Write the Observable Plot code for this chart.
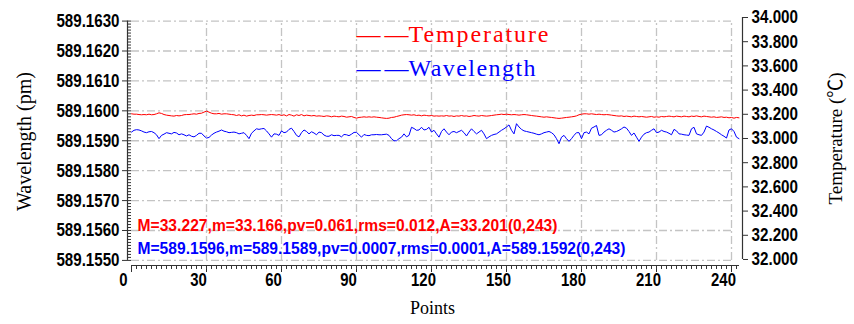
<!DOCTYPE html>
<html><head><meta charset="utf-8">
<script src="https://cdn.jsdelivr.net/npm/d3@7"></script>
<script src="https://cdn.jsdelivr.net/npm/@observablehq/plot@0.6"></script>
<style>body{margin:0;background:#fff}</style>
</head><body><div id="chart"></div>
<script>
const wavelength = [
589.15929,589.15935,589.15937,589.15936,589.15933,589.15929,589.15927,589.15930,589.15931,589.15927,
589.15920,589.15907,589.15918,589.15922,589.15927,589.15925,589.15923,589.15928,589.15926,589.15920,
589.15923,589.15920,589.15916,589.15920,589.15915,589.15913,589.15918,589.15925,589.15925,589.15916,
589.15909,589.15911,589.15919,589.15925,589.15929,589.15932,589.15936,589.15932,589.15930,589.15927,
589.15928,589.15929,589.15927,589.15923,589.15925,589.15927,589.15918,589.15907,589.15925,589.15933,
589.15940,589.15938,589.15940,589.15941,589.15933,589.15923,589.15912,589.15923,589.15922,589.15918,
589.15933,589.15927,589.15929,589.15938,589.15942,589.15931,589.15918,589.15913,589.15927,589.15936,
589.15931,589.15923,589.15930,589.15926,589.15920,589.15929,589.15927,589.15919,589.15915,589.15915,
589.15920,589.15917,589.15918,589.15918,589.15913,589.15921,589.15920,589.15917,589.15922,589.15928,
589.15928,589.15920,589.15912,589.15921,589.15918,589.15917,589.15920,589.15920,589.15921,589.15920,
589.15920,589.15921,589.15922,589.15918,589.15907,589.15900,589.15900,589.15907,589.15912,589.15923,
589.15913,589.15918,589.15945,589.15941,589.15935,589.15936,589.15945,589.15936,589.15938,589.15945,
589.15929,589.15935,589.15923,589.15912,589.15931,589.15940,589.15929,589.15920,589.15929,589.15931,
589.15927,589.15931,589.15935,589.15927,589.15916,589.15929,589.15940,589.15931,589.15923,589.15929,
589.15935,589.15923,589.15907,589.15913,589.15918,589.15921,589.15923,589.15929,589.15935,589.15940,
589.15946,589.15953,589.15935,589.15923,589.15957,589.15946,589.15938,589.15933,589.15931,589.15929,
589.15927,589.15925,589.15922,589.15920,589.15923,589.15927,589.15929,589.15931,589.15927,589.15920,
589.15907,589.15890,589.15912,589.15918,589.15907,589.15898,589.15907,589.15918,589.15927,589.15927,
589.15907,589.15927,589.15929,589.15923,589.15942,589.15946,589.15951,589.15918,589.15920,589.15929,
589.15935,589.15940,589.15935,589.15929,589.15931,589.15935,589.15940,589.15946,589.15942,589.15931,
589.15918,589.15926,589.15912,589.15898,589.15912,589.15922,589.15927,589.15929,589.15935,589.15940,
589.15927,589.15929,589.15935,589.15931,589.15929,589.15925,589.15920,589.15938,589.15933,589.15923,
589.15922,589.15920,589.15919,589.15918,589.15940,589.15945,589.15923,589.15920,589.15918,589.15929,
589.15949,589.15945,589.15940,589.15936,589.15931,589.15926,589.15920,589.15915,589.15909,589.15936,
589.15940,589.15931,589.15912,589.15907];
const temperature = [
33.204,33.201,33.201,33.198,33.196,33.198,33.196,33.201,33.196,33.198,
33.204,33.212,33.207,33.198,33.193,33.190,33.187,33.185,33.190,33.187,
33.190,33.196,33.198,33.198,33.201,33.204,33.201,33.207,33.209,33.218,
33.226,33.218,33.209,33.204,33.204,33.207,33.201,33.204,33.204,33.201,
33.198,33.196,33.190,33.196,33.187,33.193,33.185,33.190,33.193,33.190,
33.196,33.196,33.198,33.196,33.193,33.196,33.198,33.196,33.193,33.198,
33.190,33.196,33.187,33.198,33.193,33.185,33.196,33.190,33.198,33.187,
33.193,33.190,33.187,33.190,33.185,33.187,33.185,33.182,33.187,33.185,
33.179,33.185,33.182,33.179,33.185,33.182,33.176,33.179,33.182,33.174,
33.168,33.174,33.176,33.179,33.176,33.179,33.176,33.179,33.176,33.174,
33.171,33.168,33.166,33.168,33.174,33.176,33.182,33.187,33.193,33.196,
33.198,33.196,33.193,33.196,33.190,33.193,33.187,33.193,33.190,33.187,
33.190,33.185,33.187,33.185,33.187,33.185,33.190,33.185,33.187,33.182,
33.187,33.185,33.190,33.185,33.187,33.182,33.185,33.190,33.187,33.185,
33.190,33.187,33.185,33.187,33.190,33.193,33.196,33.198,33.201,33.198,
33.201,33.198,33.196,33.198,33.196,33.193,33.196,33.198,33.196,33.193,
33.190,33.187,33.185,33.182,33.179,33.176,33.179,33.176,33.174,33.171,
33.168,33.166,33.168,33.171,33.174,33.176,33.179,33.182,33.187,33.196,
33.201,33.204,33.204,33.201,33.204,33.201,33.198,33.201,33.198,33.196,
33.198,33.196,33.193,33.190,33.187,33.185,33.187,33.182,33.185,33.182,
33.179,33.185,33.182,33.179,33.182,33.179,33.176,33.179,33.182,33.176,
33.179,33.176,33.182,33.179,33.182,33.185,33.182,33.179,33.185,33.182,
33.179,33.185,33.182,33.179,33.185,33.182,33.187,33.182,33.179,33.185,
33.182,33.179,33.176,33.179,33.174,33.176,33.179,33.174,33.176,33.171,
33.174,33.168,33.174,33.171];

const wlTicks = [589.155,589.156,589.157,589.158,589.159,589.160,589.161,589.162,589.163];
const wlTickLabels = ["589.1550","589.1560","589.1570","589.1580","589.1590","589.1600","589.1610","589.1620","589.1630"];
const tempTicks = [32.0,32.2,32.4,32.6,32.8,33.0,33.2,33.4,33.6,33.8,34.0];
const tempTickLabels = ["32.000","32.200","32.400","32.600","32.800","33.000","33.200","33.400","33.600","33.800","34.000"];
const xTicks = [0,30,60,90,120,150,180,210,240];
const seriesNames = ["Temperature","Wavelength"];
const seriesColors = ["#ff0000","#0000ff"];
const statsTemp = "M=33.227,m=33.166,pv=0.061,rms=0.012,A=33.201(0,243)";
const statsWl = "M=589.1596,m=589.1589,pv=0.0007,rms=0.0001,A=589.1592(0,243)";
const xLabel = "Points";
const yLabelLeft = "Wavelength (pm)";
const yLabelRight = "Temperature (℃)";

// scale set-up
const yDomain = [589.15483, 589.16312];
const wlAt32 = 589.155031, wlPerDeg = 0.0040445;
const T2W = t => wlAt32 + (t - 32) * wlPerDeg;
const wlMinor = d3.range(0, 81).map(k => 589.155 + k * 0.0001);
const xMinor = d3.range(0, 244, 2);
const pts = wavelength.map((w, i) => ({i, w, t: temperature[i]}));
const rightTickMap = new Map(tempTicks.map((t, k) => [T2W(t), tempTickLabels[k]]));

const tickFont = {fontFamily: "'Liberation Sans Narrow','Arial Narrow','Liberation Sans',sans-serif", fontWeight: "bold", fontSize: 18.5};
const serif = "'Liberation Serif','Times New Roman',serif";
const grid = {stroke: "#c4c4c4", strokeWidth: 1.3, strokeDasharray: "8,3,2,3"};
const axisColor = "#333";

const chart = Plot.plot({
  width: 854, height: 324,
  marginLeft: 131, marginRight: 115, marginTop: 17, marginBottom: 59,
  x: {domain: [0, 243.2]},
  y: {domain: yDomain},
  style: {background: "#fff", overflow: "visible"},
  marks: [
    Plot.ruleY(wlTicks, {x1: 0, x2: 240, ...grid}),
    Plot.ruleX(xTicks.slice(1), {y1: 589.155, y2: 589.163, ...grid}),
    Plot.lineY(pts, {x: "i", y: d => T2W(d.t), stroke: seriesColors[0], strokeWidth: 1}),
    Plot.lineY(pts, {x: "i", y: "w", stroke: seriesColors[1], strokeWidth: 1}),
    // left axis
    Plot.ruleX([0], {y1: 589.155, y2: 589.163, dx: -4, stroke: axisColor, strokeWidth: 1.2}),
    Plot.ruleY(wlMinor, {x1: -1.6, x2: 0, stroke: axisColor}),
    Plot.axisY({ticks: wlTicks, tickFormat: d => wlTickLabels[wlTicks.indexOf(d)], tickSize: 5, dx: -4, tickPadding: 3, label: null, stroke: axisColor, ...tickFont}),
    // bottom axis
    Plot.ruleY([yDomain[0]], {x1: 0, x2: 243.2, stroke: axisColor, strokeWidth: 1.2}),
    Plot.axisX({ticks: xMinor, tickSize: 4, tickFormat: () => "", label: null, stroke: axisColor}),
    Plot.axisX({ticks: xTicks, tickSize: 7, tickFormat: () => "", label: null, stroke: axisColor}),
    Plot.text(xTicks, {x: d => d, frameAnchor: "bottom", dy: 20, dx: -8, text: d => String(d), ...tickFont}),
    // right axis
    Plot.ruleX([243.2], {y1: T2W(32), y2: T2W(34), dx: 3, stroke: axisColor, strokeWidth: 1.2}),
    Plot.axisY({anchor: "right", ticks: tempTicks.map(T2W), tickFormat: d => rightTickMap.get(d), tickSize: 5, dx: 3, tickPadding: 4, label: null, stroke: axisColor, ...tickFont}),
    // titles
    Plot.text([yLabelLeft], {frameAnchor: "left", textAnchor: "middle", dx: -107, rotate: -90, fontFamily: serif, fontSize: 20}),
    Plot.text([yLabelRight], {frameAnchor: "right", textAnchor: "middle", dx: 96, dy: -3, rotate: -90, fontFamily: serif + ",'Noto Sans CJK SC'", fontSize: 19}),
    Plot.text([xLabel], {frameAnchor: "bottom", dx: -3, dy: 48, fontFamily: serif, fontSize: 18}),
    // legend
    Plot.text(["——"], {frameAnchor: "top-left", dx: 225, dy: 24.7, textAnchor: "start", lineAnchor: "bottom", fill: seriesColors[0], fontFamily: serif, fontSize: 24}),
    Plot.text([seriesNames[0]], {frameAnchor: "top-left", dx: 277, dy: 24.7, textAnchor: "start", lineAnchor: "bottom", fill: seriesColors[0], fontFamily: serif, fontSize: 24}),
    Plot.text(["——"], {frameAnchor: "top-left", dx: 225, dy: 58, textAnchor: "start", lineAnchor: "bottom", fill: seriesColors[1], fontFamily: serif, fontSize: 24}),
    Plot.text([seriesNames[1]], {frameAnchor: "top-left", dx: 277, dy: 58, textAnchor: "start", lineAnchor: "bottom", fill: seriesColors[1], fontFamily: serif, fontSize: 24}),
    // stats
    Plot.text([statsTemp], {frameAnchor: "top-left", dx: 6, dy: 202, textAnchor: "start", fill: seriesColors[0], fontFamily: "'Liberation Sans',Arial,sans-serif", fontWeight: "bold", fontSize: 15.6}),
    Plot.text([statsWl], {frameAnchor: "top-left", dx: 6, dy: 225.5, textAnchor: "start", fill: seriesColors[1], fontFamily: "'Liberation Sans',Arial,sans-serif", fontWeight: "bold", fontSize: 15.6})
  ]
});
document.getElementById("chart").appendChild(chart);

const lengths = new Map([["——", 52], [seriesNames[0], 140], [seriesNames[1], 127], [statsTemp, 420], [statsWl, 488]]);
const tickLabelSet = new Set([...wlTickLabels, ...tempTickLabels, ...xTicks.map(String)]);
d3.select(chart).selectAll("text").each(function() {
  const s = this.textContent;
  const L = lengths.get(s);
  if (L) d3.select(this).attr("textLength", L);
  else if (tickLabelSet.has(s)) {
    const digits = s.replace(/[^0-9]/g, "").length, dots = s.length - digits;
    d3.select(this).attr("textLength", digits * 8.3 + dots * 5).attr("lengthAdjust", "spacingAndGlyphs");
  }
});
</script>
</body></html>
